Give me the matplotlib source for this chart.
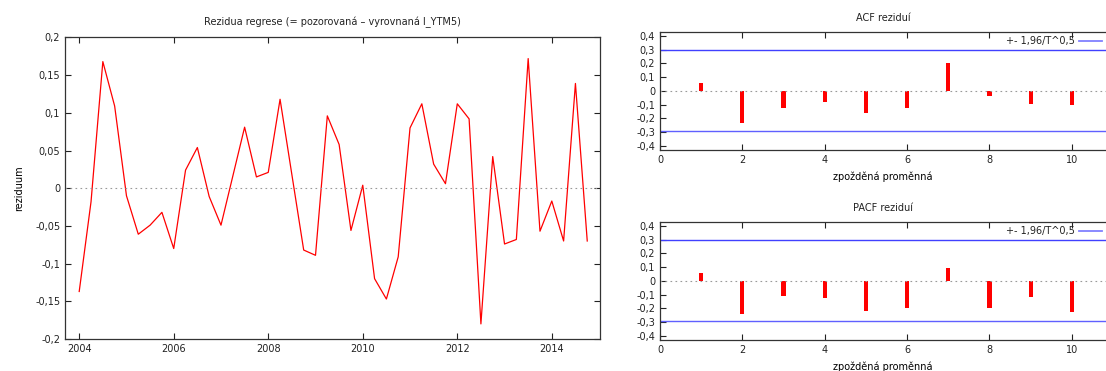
import matplotlib.pyplot as plt
import numpy as np
from matplotlib.ticker import FuncFormatter

# rezidua, ctvrtletne 2004Q1 - 2014Q4
resid = [-0.137, -0.018, 0.168, 0.109, -0.010, -0.061, -0.049, -0.032,
         -0.080, 0.024, 0.054, -0.011, -0.049, 0.016, 0.081, 0.015,
         0.021, 0.118, 0.018, -0.082, -0.089, 0.096, 0.058, -0.056,
         0.004, -0.120, -0.147, -0.091, 0.080, 0.112, 0.032, 0.006,
         0.112, 0.092, -0.180, 0.042, -0.074, -0.068, 0.172, -0.057,
         -0.017, -0.070, 0.139, -0.070]
years = 2004 + np.arange(len(resid)) * 0.25

lags = [1, 2, 3, 4, 5, 6, 7, 8, 9, 10]
acf = [0.058, -0.236, -0.127, -0.082, -0.161, -0.127, 0.202, -0.040, -0.094, -0.106]
pacf = [0.058, -0.241, -0.110, -0.125, -0.217, -0.200, 0.094, -0.200, -0.120, -0.224]
band = 1.96 / np.sqrt(len(resid))

plt.rcParams['font.family'] = 'DejaVu Sans'
plt.rcParams['font.size'] = 7
plt.rcParams['text.color'] = '#222222'
plt.rcParams['xtick.color'] = '#222222'
plt.rcParams['ytick.color'] = '#222222'


def comma(v, pos):
    v = round(v, 3)
    if v == 0:
        return "0"
    return ("%g" % v).replace(".", ",")


def gnuplot_style(ax, right=True):
    ax.tick_params(direction='in', top=True, right=right, length=4, width=0.8, labelsize=7)
    for s in ax.spines.values():
        s.set_linewidth(0.9)
        s.set_color('#333333')
    ax.yaxis.set_major_formatter(FuncFormatter(comma))


fig = plt.figure(figsize=(11.06, 3.71), dpi=100)

# levy graf - rezidua
ax = fig.add_axes([0.0588, 0.0863, 0.4837, 0.8127])
ax.plot(years, resid, color='#ff0000', lw=0.9)
ax.axhline(0, color='#999999', lw=0.8, ls=(0, (1.5, 3)))
ax.set_xlim(2003.7, 2015.02)
ax.set_ylim(-0.2, 0.2)
ax.set_xticks([2004, 2006, 2008, 2010, 2012, 2014])
ax.set_yticks(np.arange(-0.2, 0.2001, 0.05))
gnuplot_style(ax)
ax.set_title("Rezidua regrese (= pozorovaná \u2013 vyrovnaná l_YTM5)", fontsize=7, pad=9)
ax.set_ylabel("reziduum", fontsize=7, labelpad=8)


def corr_plot(rect, vals, title):
    a = fig.add_axes(rect)
    a.bar(lags, vals, width=0.1, color='#ff0000')
    a.axhline(0, color='#999999', lw=0.8, ls=(0, (1.5, 3)))
    a.axhline(band, color='#4040ff', lw=1.0, label="+- 1,96/T^0,5")
    a.axhline(-band, color='#6060ff', lw=1.0)
    a.set_xlim(0, 10.83)
    a.set_ylim(-0.43, 0.43)
    a.set_xticks([0, 2, 4, 6, 8, 10])
    a.set_yticks(np.arange(-0.4, 0.4001, 0.1))
    gnuplot_style(a, right=False)
    a.spines['right'].set_visible(False)
    a.set_title(title, fontsize=7, pad=8)
    a.set_xlabel("zpožděná proměnná", fontsize=7, labelpad=5)
    leg = a.legend(loc='upper right', frameon=False, markerfirst=False, fontsize=7,
                   handlelength=2.3, handletextpad=0.5, borderaxespad=0.15,
                   borderpad=0.3)
    for h in leg.get_lines():
        h.set_color('#8080ff')
        h.set_linewidth(1.3)
    return a


corr_plot([0.5967, 0.5957, 0.4033, 0.3189], acf, "ACF reziduí")
corr_plot([0.5967, 0.0836, 0.4033, 0.3188], pacf, "PACF reziduí")

fig.savefig("out.png", dpi=100)
